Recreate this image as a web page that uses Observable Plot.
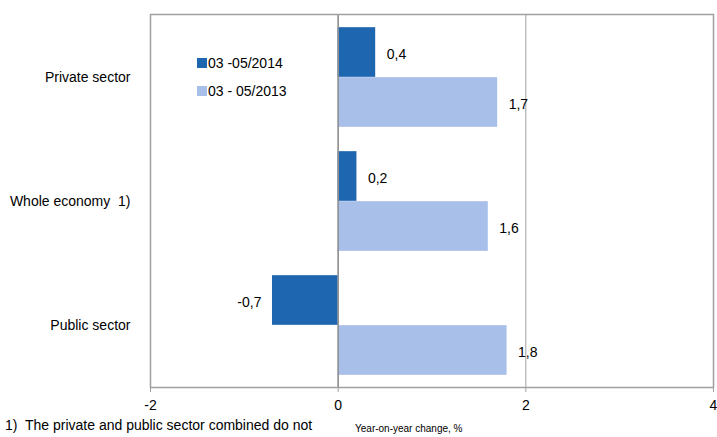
<!DOCTYPE html>
<html>
<head>
<meta charset="utf-8">
<script src="https://cdn.jsdelivr.net/npm/d3@7"></script>
<script src="https://cdn.jsdelivr.net/npm/@observablehq/plot@0.6"></script>
<style>
  html, body { margin: 0; padding: 0; background: #fff; overflow: hidden; }
  #wrap { position: relative; width: 717px; height: 437px; font-family: "Liberation Sans", Arial, sans-serif; }
  .legend { position: absolute; left: 197px; top: 49px; font-size: 14px; color: #000; }
  .legend div { display: flex; align-items: center; height: 28px; }
  .legend span.sw { display: inline-block; width: 10px; height: 10px; margin-right: 1px; }
  .foot { position: absolute; left: 5px; top: 417px; font-size: 14px; line-height: 16px; white-space: pre; }
  .xlab { position: absolute; left: 355px; top: 423px; font-size: 10px; line-height: 12px; white-space: pre; }
</style>
</head>
<body>
<div id="wrap"></div>
<script>
const categories = ["Private sector", "Whole economy\u00a0\u00a01)", "Public sector"];
const series = ["03 -05/2014", "03 - 05/2013"];
const values2014 = [0.4, 0.2, -0.7];
const values2013 = [1.7, 1.6, 1.8];
const xTicks = [-2, 0, 2, 4];
const colors = ["#1f66b0", "#a8bfea"];

const data = [];
categories.forEach((c, i) => {
  data.push({category: c, series: series[0], value: values2014[i]});
  data.push({category: c, series: series[1], value: values2013[i]});
});
const d14 = data.filter(d => d.series === series[0]);
const d13 = data.filter(d => d.series === series[1]);
const fmt = v => d3.format(".1f")(v).replace(".", ",").replace("−", "-");

const band = (437 - 14 - 50) / 3;
const barH = 50;
const outer = (band - 2 * barH) / 2;

const chart = Plot.plot({
  width: 717,
  height: 437,
  marginLeft: 150,
  marginRight: 4,
  marginTop: 14,
  marginBottom: 50,
  style: {fontFamily: "'Liberation Sans', Arial, sans-serif", fontSize: "14px", background: "#fff", overflow: "visible"},
  x: {domain: [-2, 4], ticks: xTicks},
  y: {domain: categories, padding: 0},
  marks: [
    Plot.ruleX(xTicks, {stroke: "#a0a0a0", strokeWidth: 1}),
    Plot.barX(d14, {x: "value", y: "category", fill: colors[0], insetTop: outer, insetBottom: band - outer - barH}),
    Plot.barX(d13, {x: "value", y: "category", fill: colors[1], insetTop: outer + barH, insetBottom: outer}),
    Plot.ruleX([0], {stroke: "#909090", strokeWidth: 1.5}),
    Plot.frame({stroke: "#a0a0a0", strokeWidth: 1.5}),
    Plot.text(d14.filter(d => d.value >= 0), {x: "value", y: "category", text: d => fmt(d.value), textAnchor: "start", dx: 11, dy: -(band / 2 - outer - barH / 2) + 2, fontSize: 14}),
    Plot.text(d14.filter(d => d.value < 0), {x: "value", y: "category", text: d => fmt(d.value), textAnchor: "end", dx: -11, dy: -(band / 2 - outer - barH / 2) + 2, fontSize: 14}),
    Plot.text(d13, {x: "value", y: "category", text: d => fmt(d.value), textAnchor: "start", dx: 11, dy: (band / 2 - outer - barH / 2) + 2, fontSize: 14}),
    Plot.axisX({ticks: xTicks, tickSize: 5, tickPadding: 8, tickFormat: d => String(d), stroke: "#a0a0a0", fontSize: 14, label: null}),
    Plot.axisY({tickSize: 0, tickPadding: 20, label: null, fontSize: 14})
  ]
});

const wrap = document.getElementById("wrap");
wrap.appendChild(chart);

const leg = document.createElement("div");
leg.className = "legend";
series.forEach((s, i) => {
  const row = document.createElement("div");
  const sw = document.createElement("span");
  sw.className = "sw";
  sw.style.background = colors[i];
  row.appendChild(sw);
  row.appendChild(document.createTextNode(s));
  leg.appendChild(row);
});
wrap.appendChild(leg);

const foot = document.createElement("div");
foot.className = "foot";
foot.textContent = "1)  The private and public sector combined do not";
wrap.appendChild(foot);

const xlab = document.createElement("div");
xlab.className = "xlab";
xlab.textContent = "Year-on-year change, %";
wrap.appendChild(xlab);
</script>
</body>
</html>
